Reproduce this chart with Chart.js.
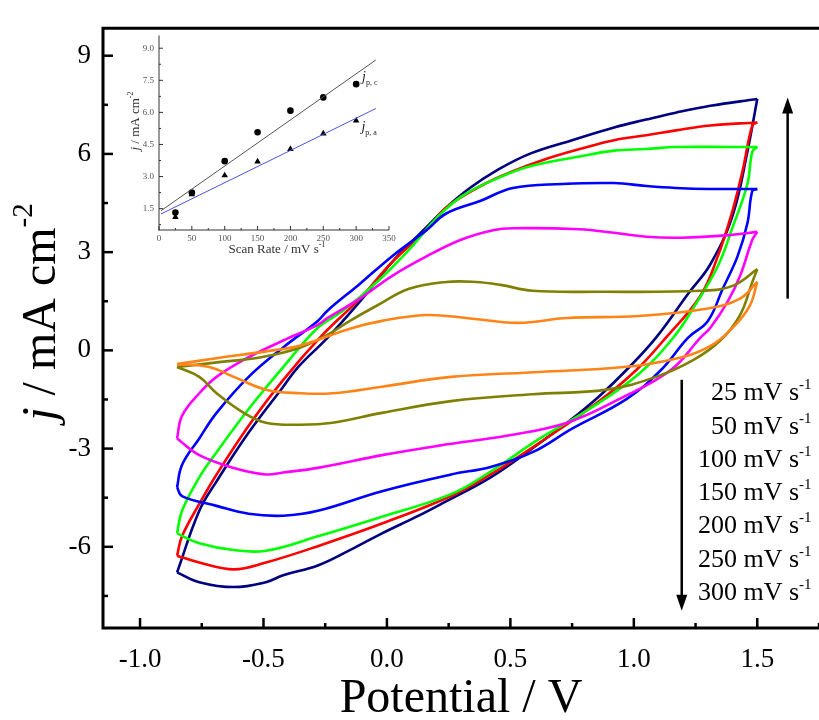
<!DOCTYPE html>
<html><head><meta charset="utf-8">
<script src="https://cdn.jsdelivr.net/npm/chart.js@4.4.1/dist/chart.umd.min.js"></script>
<style>
html,body{margin:0;padding:0;background:#fff;}
#wrap{position:relative;width:819px;height:720px;overflow:hidden;}
#main{position:absolute;left:0;top:0;}
#inset{position:absolute;left:110px;top:25px;}
</style></head><body>
<div id="wrap"><canvas id="main" width="819" height="720"></canvas><canvas id="inset" width="290" height="240"></canvas></div>
<script>
// ---------- main CV data (potential E / V, current density j / mA cm^-2) ----------
const rates = ['25','50','100','150','200','250','300'];
const colors = ['#FF8418','#808000','#FF00FF','#0000FF','#00FF00','#FF0000','#000080'];

const e25 = [-0.85,-0.69,-0.49,-0.35,-0.15,-0.02,0.16,0.32,0.53,0.73,1.02,1.30,1.43,1.50,1.47,1.40,1.30,1.16,0.96,0.62,0.26,-0.02,-0.22,-0.35,-0.49,-0.62,-0.72,-0.85];
const j25 = [-0.42,-0.24,-0.03,0.15,0.66,0.90,1.08,0.99,0.84,0.99,1.05,1.28,1.58,2.09,1.37,0.69,0.09,-0.27,-0.51,-0.66,-0.81,-1.11,-1.31,-1.31,-1.20,-0.81,-0.51,-0.42];

const e50 = [-0.85,-0.68,-0.51,-0.35,-0.24,-0.15,-0.04,0.09,0.24,0.36,0.46,0.59,0.86,1.27,1.40,1.50,1.48,1.43,1.35,1.24,1.09,0.89,0.59,0.26,-0.02,-0.22,-0.35,-0.49,-0.58,-0.69,-0.76,-0.85];
const j50 = [-0.51,-0.36,-0.21,0.09,0.48,0.90,1.37,1.88,2.09,2.09,2.00,1.82,1.79,1.82,1.97,2.48,2.09,1.08,0.30,-0.30,-0.81,-1.20,-1.34,-1.55,-1.91,-2.21,-2.27,-2.21,-1.91,-1.31,-0.81,-0.51];

const e100 = [-0.85,-0.83,-0.76,-0.69,-0.56,-0.42,-0.28,-0.24,-0.11,0.02,0.16,0.30,0.43,0.51,0.78,0.92,1.05,1.19,1.40,1.50,1.48,1.43,1.38,1.31,1.27,1.15,0.94,0.73,0.49,0.22,-0.02,-0.28,-0.42,-0.49,-0.62,-0.76,-0.85];
const j100 = [-2.69,-2.00,-1.31,-0.81,-0.21,0.30,0.78,0.99,1.58,2.27,2.87,3.38,3.67,3.73,3.70,3.59,3.47,3.44,3.53,3.62,3.38,2.27,1.49,0.69,0.39,-0.60,-1.49,-2.21,-2.60,-2.90,-3.20,-3.59,-3.73,-3.79,-3.59,-3.20,-2.69];

const e150 = [-0.85,-0.83,-0.76,-0.69,-0.56,-0.42,-0.28,-0.24,-0.11,0.02,0.16,0.24,0.38,0.51,0.71,0.92,1.05,1.17,1.31,1.50,1.48,1.46,1.42,1.36,1.30,1.22,1.11,0.97,0.75,0.59,0.42,0.26,-0.02,-0.28,-0.42,-0.56,-0.69,-0.83,-0.85];
const j150 = [-4.18,-3.50,-2.69,-1.91,-0.81,0.09,0.90,1.22,2.03,2.87,3.67,4.18,4.57,4.96,5.08,5.11,5.02,4.96,4.93,4.93,4.87,3.88,2.87,1.88,0.90,0.39,-0.60,-1.49,-2.39,-3.11,-3.56,-3.79,-4.30,-4.90,-5.05,-4.99,-4.75,-4.45,-4.18];

const e200 = [-0.85,-0.83,-0.76,-0.69,-0.56,-0.42,-0.28,-0.18,-0.04,0.09,0.20,0.30,0.44,0.58,0.78,0.92,1.05,1.17,1.40,1.50,1.48,1.46,1.40,1.34,1.24,1.16,1.02,0.82,0.62,0.42,0.26,-0.02,-0.28,-0.49,-0.62,-0.76,-0.85];
const j200 = [-5.59,-4.90,-3.88,-3.11,-1.79,-0.51,0.69,1.20,2.09,3.08,4.03,4.69,5.23,5.62,5.92,6.10,6.15,6.21,6.21,6.21,6.07,5.08,3.76,2.57,1.28,0.39,-0.72,-1.79,-2.69,-3.70,-4.39,-5.08,-5.68,-6.12,-6.10,-5.89,-5.59];

const e250 = [-0.85,-0.83,-0.76,-0.69,-0.56,-0.42,-0.26,-0.11,0.02,0.16,0.24,0.38,0.51,0.65,0.78,0.92,1.05,1.17,1.31,1.50,1.48,1.44,1.40,1.34,1.27,1.13,1.01,0.86,0.62,0.42,0.26,-0.02,-0.28,-0.49,-0.62,-0.76,-0.85];
const j250 = [-6.27,-5.68,-4.69,-3.79,-2.30,-0.90,0.48,1.58,2.69,3.67,4.36,5.02,5.47,5.86,6.15,6.42,6.57,6.72,6.87,6.96,6.87,5.47,4.27,2.87,1.67,0.39,-0.60,-1.55,-2.81,-3.79,-4.45,-5.29,-5.98,-6.48,-6.69,-6.48,-6.27];

const e300 = [-0.85,-0.76,-0.69,-0.56,-0.42,-0.36,-0.24,-0.11,0.02,0.16,0.24,0.34,0.45,0.58,0.75,0.92,1.05,1.17,1.31,1.50,1.46,1.40,1.31,1.22,1.09,0.97,0.86,0.75,0.59,0.42,0.22,0.12,-0.02,-0.15,-0.28,-0.42,-0.49,-0.62,-0.76,-0.85];
const j300 = [-6.78,-4.90,-4.00,-2.51,-1.11,-0.51,0.39,1.49,2.69,3.76,4.36,4.98,5.52,6.01,6.42,6.81,7.05,7.26,7.47,7.68,6.07,4.12,2.63,1.73,0.39,-0.60,-1.40,-2.09,-2.99,-3.88,-4.69,-5.08,-5.59,-6.10,-6.57,-6.87,-7.08,-7.23,-7.08,-6.78];

const xTicks = [-1.0,-0.5,0.0,0.5,1.0,1.5];
const xTickLabels = ['-1.0','-0.5','0.0','0.5','1.0','1.5'];
const xMinor = [-0.75,-0.25,0.25,0.75,1.25,1.75];
const yTicks = [-6,-3,0,3,6,9];
const yTickLabels = ['-6','-3','0','3','6','9'];
const yMinor = [-7.5,-4.5,-1.5,1.5,4.5,7.5];

// ---------- inset data ----------
const scanRates = [25,50,100,150,200,250,300];
const jpc = [1.32,2.25,3.72,5.07,6.08,6.70,7.32];
const jpa = [1.10,2.17,3.05,3.70,4.28,5.01,5.62];
const fitX = [3,330];
const fitC = [1.40,8.45];
const fitA = [1.25,6.18];
const insetXTicks = [0,50,100,150,200,250,300,350];
const insetXMinor = [25,75,125,175,225,275,325];
const insetYTicks = [1.5,3.0,4.5,6.0,7.5,9.0];
const insetYTickLabels = ['1.5','3.0','4.5','6.0','7.5','9.0'];
const insetYMinor = [0.75,2.25,3.75,5.25,6.75,8.25];

const SERIF = '"Liberation Serif", "Times New Roman", serif';
const E = [e25,e50,e100,e150,e200,e250,e300];
const J = [j25,j50,j100,j150,j200,j250,j300];

function richText(ctx, parts, x, y, align) {
  let w = 0;
  parts.forEach(p => { ctx.font = p.font; p.w = ctx.measureText(p.t).width; w += p.w; });
  let cx = align === 'right' ? x - w : (align === 'center' ? x - w / 2 : x);
  ctx.textAlign = 'left'; ctx.textBaseline = 'alphabetic';
  parts.forEach(p => { ctx.font = p.font; ctx.fillText(p.t, cx, y + (p.dy || 0)); cx += p.w; });
}
function seg(ctx, x1, y1, x2, y2) { ctx.beginPath(); ctx.moveTo(x1, y1); ctx.lineTo(x2, y2); ctx.stroke(); }
function arrow(ctx, x, y1, y2) {
  const dir = y2 < y1 ? -1 : 1, hl = 16, hw = 5.5;
  ctx.lineWidth = 2.5;
  seg(ctx, x, y1, x, y2 - dir * hl * 0.6);
  ctx.beginPath(); ctx.moveTo(x, y2); ctx.lineTo(x - hw, y2 - dir * hl); ctx.lineTo(x + hw, y2 - dir * hl); ctx.closePath(); ctx.fill();
}

// annotation layout in axis units
const upArrow = {x: 1.623, from: 1.58, to: 7.72};
const downArrow = {x: 1.194, from: -0.90, to: -7.95};
const labelX = 1.72, labelTop = -1.25, labelStep = 1.016;

const mainDecor = {
  id: 'mainDecor',
  afterDraw(chart) {
    const ctx = chart.ctx, a = chart.chartArea, xs = chart.scales.x, ys = chart.scales.y;
    ctx.save();
    ctx.strokeStyle = '#000'; ctx.fillStyle = '#000'; ctx.lineCap = 'butt';
    ctx.lineWidth = 2.5;
    xTicks.forEach(v => { const p = xs.getPixelForValue(v); seg(ctx, p, a.bottom, p, a.bottom - 10); });
    xMinor.forEach(v => { const p = xs.getPixelForValue(v); seg(ctx, p, a.bottom, p, a.bottom - 5); });
    yTicks.forEach(v => { const p = ys.getPixelForValue(v); seg(ctx, a.left, p, a.left + 10, p); });
    yMinor.forEach(v => { const p = ys.getPixelForValue(v); seg(ctx, a.left, p, a.left + 5, p); });
    ctx.lineWidth = 3;
    ctx.beginPath(); ctx.moveTo(a.right + 2, a.top); ctx.lineTo(a.left, a.top); ctx.lineTo(a.left, a.bottom); ctx.lineTo(a.right + 2, a.bottom); ctx.stroke();
    arrow(ctx, xs.getPixelForValue(upArrow.x), ys.getPixelForValue(upArrow.from), ys.getPixelForValue(upArrow.to));
    arrow(ctx, xs.getPixelForValue(downArrow.x), ys.getPixelForValue(downArrow.from), ys.getPixelForValue(downArrow.to));
    rates.forEach((r, i) => {
      const yc = ys.getPixelForValue(labelTop - i * labelStep);
      richText(ctx, [{t: r + ' mV s', font: '26px ' + SERIF}, {t: '-1', font: '15px ' + SERIF, dy: -11}], xs.getPixelForValue(labelX), yc + 9, 'right');
    });
    ctx.translate(40, 312); ctx.rotate(-Math.PI / 2);
    richText(ctx, [{t: 'j', font: 'italic 48px ' + SERIF}, {t: ' / mA cm', font: '48px ' + SERIF}, {t: '-2', font: '29px ' + SERIF, dy: -23}], 0, 15, 'center');
    ctx.restore();
  }
};

// each voltammogram is drawn as its anodic and cathodic branch (split at the vertex potential)
const cvDatasets = [];
rates.forEach((r, i) => {
  const pts = E[i].map((e, k) => ({x: e, y: J[i][k]}));
  let turn = 0;
  E[i].forEach((e, k) => { if (e > E[i][turn]) turn = k; });
  [pts.slice(0, turn + 1), pts.slice(turn)].forEach((branch, b) => {
    cvDatasets.push({
      label: r + ' mV s-1' + (b ? ' (cathodic)' : ' (anodic)'),
      data: branch,
      borderColor: colors[i], backgroundColor: colors[i], borderWidth: 2.6,
      pointRadius: 0, tension: 0.4, fill: false
    });
  });
});

new Chart(document.getElementById('main'), {
  type: 'line',
  data: {datasets: cvDatasets},
  options: {
    responsive: false, animation: false,
    layout: {padding: {left: 0, right: 0, top: 15, bottom: 0}},
    plugins: {legend: {display: false}, tooltip: {enabled: false}},
    scales: {
      x: {
        type: 'linear', min: -1.15, max: 1.75,
        afterBuildTicks: s => { s.ticks = xTicks.map(v => ({value: v})); },
        afterFit: s => { s.height = 92; },
        grid: {display: false, drawTicks: false}, border: {display: false},
        ticks: {padding: 16, autoSkip: false, maxRotation: 0, color: '#000', font: {family: SERIF, size: 27}, callback: (v, i) => xTickLabels[i]},
        title: {display: true, text: 'Potential / V', color: '#000', font: {family: SERIF, size: 48, lineHeight: 1}, padding: {top: 0, bottom: -3}}
      },
      y: {
        type: 'linear', min: -8.48, max: 9.84,
        afterBuildTicks: s => { s.ticks = yTicks.map(v => ({value: v})); },
        afterFit: s => { s.width = 103; },
        grid: {display: false, drawTicks: false}, border: {display: false},
        ticks: {padding: 12, autoSkip: false, color: '#000', font: {family: SERIF, size: 27}, callback: (v, i) => yTickLabels[i]}
      }
    }
  },
  plugins: [mainDecor]
});

// ---------- inset ----------
const insetLabelC = {x: 309, y: 7.46};
const insetLabelA = {x: 308, y: 5.13};
const insetDecor = {
  id: 'insetDecor',
  afterDraw(chart) {
    const ctx = chart.ctx, a = chart.chartArea, xs = chart.scales.x, ys = chart.scales.y;
    ctx.save();
    ctx.strokeStyle = '#333'; ctx.fillStyle = '#222'; ctx.lineWidth = 1;
    seg(ctx, a.left, a.top, a.left, a.bottom + 0.5);
    seg(ctx, a.left - 0.5, a.bottom, a.right, a.bottom);
    insetXTicks.forEach(v => { const p = xs.getPixelForValue(v); seg(ctx, p, a.bottom, p, a.bottom - 4); });
    insetXMinor.forEach(v => { const p = xs.getPixelForValue(v); seg(ctx, p, a.bottom, p, a.bottom - 2); });
    insetYTicks.forEach(v => { const p = ys.getPixelForValue(v); seg(ctx, a.left, p, a.left + 4, p); });
    insetYMinor.forEach(v => { const p = ys.getPixelForValue(v); seg(ctx, a.left, p, a.left + 2, p); });
    ctx.fillStyle = '#333';
    richText(ctx, [{t: 'Scan Rate / mV s', font: '13px ' + SERIF}, {t: '-1', font: '8px ' + SERIF, dy: -6}], (a.left + a.right) / 2 + 3, 228, 'center');
    ctx.save();
    ctx.translate(25, 96); ctx.rotate(-Math.PI / 2);
    richText(ctx, [{t: 'j', font: 'italic 13px ' + SERIF}, {t: ' / mA cm', font: '13px ' + SERIF}, {t: '-2', font: '8px ' + SERIF, dy: -6}], 0, 4, 'center');
    ctx.restore();
    ctx.fillStyle = '#222';
    richText(ctx, [{t: 'j', font: 'italic 14px ' + SERIF}, {t: 'p, c', font: '8px ' + SERIF, dy: 4}], xs.getPixelForValue(insetLabelC.x), ys.getPixelForValue(insetLabelC.y), 'left');
    richText(ctx, [{t: 'j', font: 'italic 14px ' + SERIF}, {t: 'p, a', font: '8px ' + SERIF, dy: 4}], xs.getPixelForValue(insetLabelA.x), ys.getPixelForValue(insetLabelA.y), 'left');
    ctx.restore();
  }
};

new Chart(document.getElementById('inset'), {
  type: 'scatter',
  data: {
    datasets: [
      {label: 'fit c', data: fitX.map((x, i) => ({x, y: fitC[i]})), showLine: true, borderColor: '#555', borderWidth: 1, pointRadius: 0},
      {label: 'fit a', data: fitX.map((x, i) => ({x, y: fitA[i]})), showLine: true, borderColor: '#5050e0', borderWidth: 1, pointRadius: 0},
      {label: 'j p,c', data: scanRates.map((x, i) => ({x, y: jpc[i]})), pointStyle: 'circle', pointRadius: 3.3, backgroundColor: '#000', borderColor: '#000', borderWidth: 0},
      {label: 'j p,a', data: scanRates.map((x, i) => ({x, y: jpa[i]})), pointStyle: 'triangle', pointRadius: 3.8, backgroundColor: '#000', borderColor: '#000', borderWidth: 0}
    ]
  },
  options: {
    responsive: false, animation: false,
    layout: {padding: {left: 0, right: 11, top: 10, bottom: 0}},
    plugins: {legend: {display: false}, tooltip: {enabled: false}},
    scales: {
      x: {
        type: 'linear', min: 0, max: 350,
        afterBuildTicks: s => { s.ticks = insetXTicks.map(v => ({value: v})); },
        afterFit: s => { s.height = 35; },
        grid: {display: false, drawTicks: false}, border: {display: false},
        ticks: {padding: 3, autoSkip: false, maxRotation: 0, color: '#555', font: {family: SERIF, size: 9}, callback: (v, i) => String(insetXTicks[i])}
      },
      y: {
        type: 'linear', min: 0.5, max: 9.6,
        afterBuildTicks: s => { s.ticks = insetYTicks.map(v => ({value: v})); },
        afterFit: s => { s.width = 49; },
        grid: {display: false, drawTicks: false}, border: {display: false},
        ticks: {padding: 5, autoSkip: false, color: '#555', font: {family: SERIF, size: 9}, callback: (v, i) => insetYTickLabels[i]}
      }
    }
  },
  plugins: [insetDecor]
});
</script>
</body></html>
